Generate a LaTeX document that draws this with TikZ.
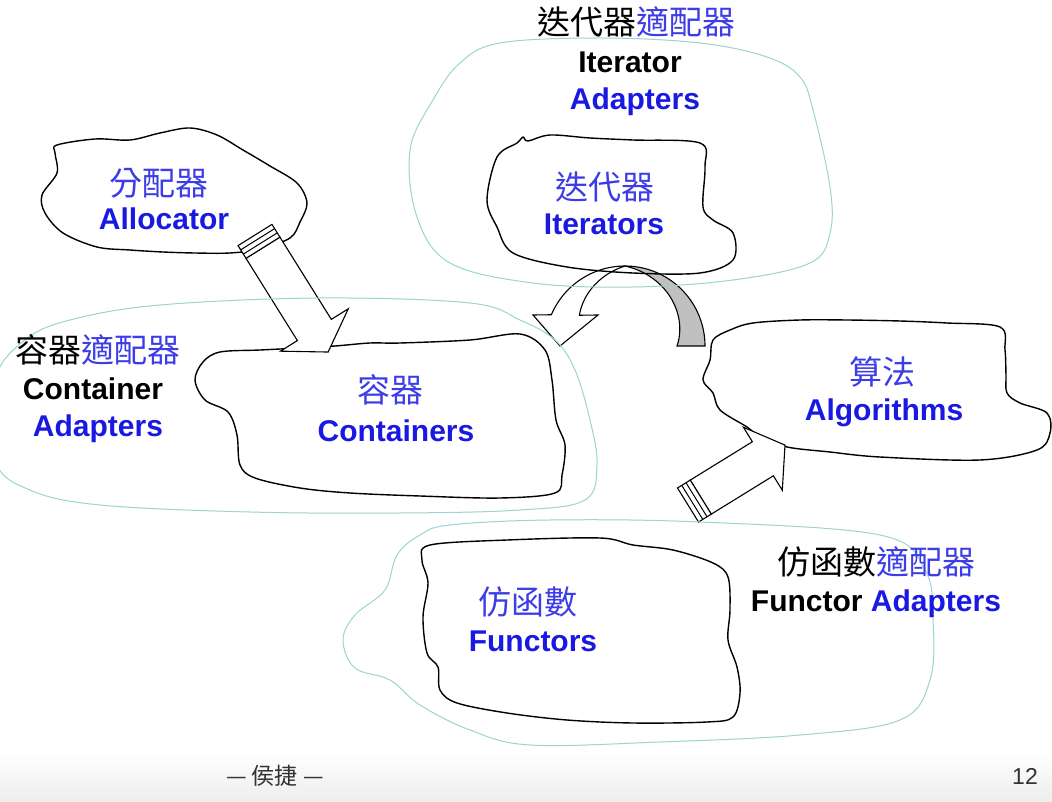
\documentclass[tikz,border=0pt]{standalone}
\usepackage{fontspec}
\setmainfont{Liberation Sans}
\newfontfamily\cjk{Noto Sans CJK TC}
\definecolor{tblue}{RGB}{25,25,225}
\definecolor{cblue}{RGB}{60,60,232}
\definecolor{tealline}{RGB}{155,212,208}
\definecolor{arrgray}{RGB}{192,192,192}
\definecolor{foot}{RGB}{50,50,50}
\begin{document}
\begin{tikzpicture}[x=1pt,y=-1pt,
  cloudline/.style={draw=black, line width=1.4pt, line join=round},
  adaptline/.style={draw=tealline, line width=1pt, line join=round},
  fatarrow/.style={draw=black, fill=white, line width=1.1pt, line join=miter},
  en/.style={font=\fontsize{30}{30}\selectfont\bfseries, inner sep=0pt, anchor=base},
  zh/.style={font=\fontsize{33}{33}\selectfont\cjk, inner sep=0pt, anchor=center},
  ft/.style={inner sep=0pt, anchor=center, text=foot}]
\useasboundingbox (0,0) rectangle (1052,802);
\fill[white] (0,0) rectangle (1052,802);
\shade[top color=white, bottom color=black!7] (0,752) rectangle (1052,802);

% curved arrow (iterators <-> containers)
\draw[fatarrow, fill=arrgray]
  plot[domain=0:-90, samples=40] ({625+80*cos(\x)},{346+80*sin(\x)})
  -- plot[domain=-90:0, samples=40] ({625+(52-28*\x/90)*cos(\x)},{346+(52-28*\x/90)*sin(\x)})
  -- cycle;
\draw[fatarrow]
  plot[domain=-90:-157, samples=40] ({625+80*cos(\x)},{346+80*sin(\x)})
  -- (533,315) -- (560,346) -- (598,315)
  -- plot[domain=-146:-90, samples=40] ({625+(80-25*(-90-\x)/56)*cos(\x)},{346+(80-25*(-90-\x)/56)*sin(\x)})
  -- cycle;

% black clouds
\draw[cloudline] plot[smooth cycle, tension=0.55] coordinates {
 (57,145) (95,139) (130,140) (160,133) (190,128) (217,135) (243,150) (270,166) (297,183)
 (307,203) (300,222) (290,238) (260,249) (230,253) (195,253) (163,252) (130,250) (97,247)
 (63,233) (45,213) (42,195) (57,173) (55,153)};
\draw[cloudline] plot[smooth cycle, tension=0.55] coordinates {
 (523,137) (528,141) (550,135) (590,138) (633,140) (700,143) (705,167) (703,207) (713,220)
 (733,233) (733,260) (700,273) (633,273) (567,267) (513,253) (497,227) (487,200) (497,157) (517,143)};
\draw[cloudline] plot[smooth cycle, tension=0.55] coordinates {
 (220,352) (260,350) (300,348) (335,346) (370,343) (400,343) (470,340) (520,334) (545,350)
 (552,380) (556,420) (565,445) (562,475) (555,493) (500,498) (420,496) (350,493) (300,488)
 (255,478) (240,465) (237,435) (228,412) (205,400) (195,380) (203,362)};
\draw[cloudline] plot[smooth cycle, tension=0.55] coordinates {
 (753,323) (800,320) (847,320) (900,321) (947,323) (1000,327) (1005,350) (1006,375) (1007,393)
 (1020,403) (1047,413) (1050,433) (1037,450) (980,460) (880,457) (830,452) (787,447) (760,437)
 (747,427) (720,410) (713,393) (703,380) (710,360) (713,340) (730,330)};
\draw[cloudline] plot[smooth cycle, tension=0.55] coordinates {
 (430,545) (507,540) (600,538) (633,545) (673,550) (713,563) (728,577) (730,610) (728,640)
 (737,667) (740,693) (733,717) (707,722) (633,723) (567,720) (507,713) (457,703) (440,690)
 (438,667) (427,653) (423,617) (428,583) (422,560)};

% allocator -> containers arrow
\begin{scope}[shift={(255,235)}, rotate=-58]
  \draw[fatarrow] (15,-20) -- (112,-20) -- (112,-40) -- (138,0) -- (112,40) -- (112,20) -- (15,20) -- cycle;
  \draw[fatarrow] (0,-20) rectangle (15,20);
  \draw[line width=1pt] (5,-20) -- (5,20) (10,-20) -- (10,20);
\end{scope}
% functors -> algorithms arrow
\begin{scope}[shift={(688,505)}, rotate=31.7]
  \draw[fatarrow] (15,-20) -- (88,-20) -- (88,-37) -- (114,0) -- (88,37) -- (88,20) -- (15,20) -- cycle;
  \draw[fatarrow] (0,-20) rectangle (15,20);
  \draw[line width=1pt] (5,-20) -- (5,20) (10,-20) -- (10,20);
\end{scope}

% adapter clouds (light teal)
\draw[adaptline] plot[smooth cycle, tension=0.6] coordinates {
 (460,63) (500,43) (600,38) (700,43) (767,57) (800,77) (813,110) (830,187) (830,233)
 (810,263) (733,280) (633,287) (533,283) (450,263) (417,217) (410,150) (433,100)};
\draw[adaptline] plot[smooth cycle, tension=0.6] coordinates {
 (70,320) (160,305) (320,298) (470,303) (520,320) (555,340) (575,370) (590,420) (597,465)
 (585,500) (520,510) (400,513) (250,512) (100,505) (30,490) (-5,460) (-5,380) (25,340)};
\draw[adaptline] plot[smooth cycle, tension=0.6] coordinates {
 (450,525) (550,520) (700,522) (880,535) (925,570) (933,620) (930,680) (900,720) (800,735)
 (660,742) (530,745) (470,730) (420,705) (390,680) (355,668) (343,640) (355,615) (385,590)
 (397,555) (420,535)};

% texts
\node[zh, text=cblue] (allocZh) at (159,183) {分配器};
\node[en, text=tblue] (allocEn) at (164,230) {Allocator};
\node[zh, text=cblue] (iterZh) at (605,187) {迭代器};
\node[en, text=tblue] (iterEn) at (604,235) {Iterators};
\node[zh] (iterAdZh) at (636,22) {迭代器\textcolor{cblue}{適配器}};
\node[en] (iterAdEn1) at (630,73) {Iterator};
\node[en, text=tblue] (iterAdEn2) at (635,110) {Adapters};
\node[zh] (contAdZh) at (98,350) {容器\textcolor{cblue}{適配器}};
\node[en] (contAdEn1) at (93,399) {Container};
\node[en, text=tblue] (contAdEn2) at (98,436) {Adapters};
\node[zh, text=cblue] (contZh) at (390,390) {容器};
\node[en, text=tblue] (contEn) at (396,441) {Containers};
\node[zh, text=cblue] (algoZh) at (882,372) {算法};
\node[en, text=tblue] (algoEn) at (884,420) {Algorithms};
\node[zh, text=cblue] (funcZh) at (528,602) {仿函數};
\node[en, text=tblue] (funcEn) at (533,651) {Functors};
\node[zh] (funcAdZh) at (876,562) {仿函數\textcolor{cblue}{適配器}};
\node[en] (funcAdEn) at (876,611) {Functor \textcolor{tblue}{Adapters}};

% footer
\node[ft, font=\fontsize{23}{23}\selectfont\cjk] (author) at (275,776) {— 侯捷 —};
\node[ft, font=\fontsize{23}{23}\selectfont] (page) at (1025,776) {12};
\end{tikzpicture}
\end{document}
